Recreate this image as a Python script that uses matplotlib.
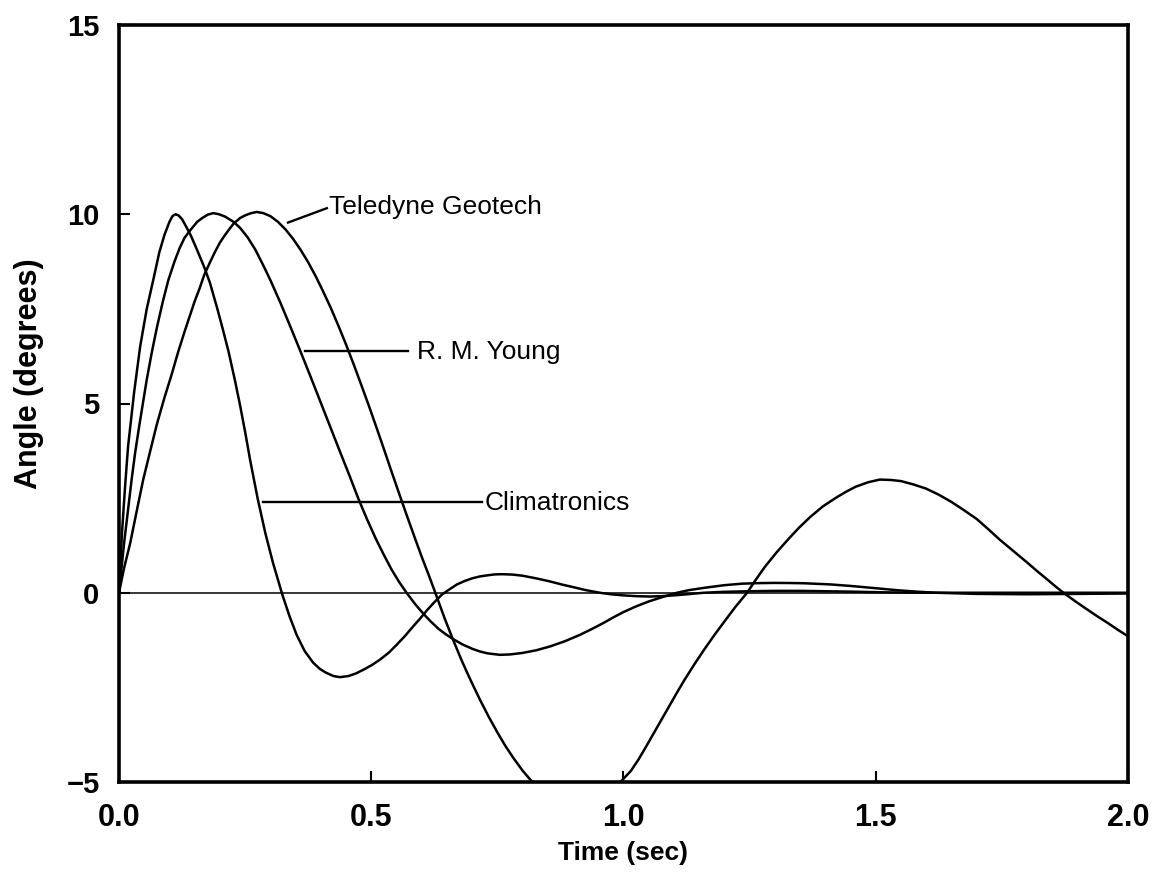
import matplotlib
matplotlib.use("Agg")
import matplotlib.pyplot as plt

# ---- data ----
clim_t = [0, 0.006, 0.012, 0.018, 0.03, 0.042, 0.055, 0.068, 0.08, 0.09, 0.1, 0.106,
          0.112, 0.118, 0.125, 0.132, 0.142, 0.155, 0.169, 0.18, 0.195, 0.205, 0.217,
          0.23, 0.24, 0.25, 0.26, 0.275, 0.29, 0.305, 0.324, 0.338, 0.352, 0.368,
          0.385, 0.398, 0.41, 0.425, 0.438, 0.455, 0.47, 0.485, 0.5, 0.517, 0.535,
          0.55, 0.567, 0.583, 0.597, 0.61, 0.625, 0.64, 0.655, 0.67, 0.685, 0.7,
          0.715, 0.73, 0.745, 0.76, 0.78, 0.8, 0.827, 0.854, 0.88, 0.9, 0.925, 0.953,
          0.975, 1.0, 1.025, 1.052, 1.075, 1.1, 1.13, 1.159, 1.2, 1.25, 1.3, 1.35,
          1.4, 1.45, 1.52, 1.6, 1.8, 2.0]
clim_v = [0, 1.6, 2.8, 3.87, 5.3, 6.51, 7.5, 8.27, 9.0, 9.45, 9.8, 9.95,
          10.0, 9.97, 9.87, 9.7, 9.45, 9.05, 8.6, 8.2, 7.5, 7.0, 6.38,
          5.6, 4.95, 4.25, 3.5, 2.48, 1.58, 0.8, -0.06, -0.62, -1.11, -1.54,
          -1.85, -2.01, -2.11, -2.2, -2.23, -2.2, -2.13, -2.03, -1.92, -1.77, -1.58,
          -1.38, -1.14, -0.89, -0.68, -0.47, -0.25, -0.05, 0.09, 0.22, 0.31, 0.38,
          0.43, 0.46, 0.485, 0.49, 0.48, 0.45, 0.38, 0.30, 0.21, 0.15, 0.07, 0.0,
          -0.04, -0.07, -0.09, -0.1, -0.09, -0.07, -0.035, 0.0, 0.025, 0.04, 0.05, 0.05,
          0.04, 0.03, 0.01, 0.0, 0.0, 0.0]

rmy_t = [0, 0.01, 0.018, 0.025, 0.032, 0.04, 0.055, 0.065, 0.075, 0.087, 0.098, 0.11,
         0.12, 0.13, 0.142, 0.155, 0.165, 0.176, 0.187, 0.198, 0.21, 0.227, 0.24,
         0.255, 0.27, 0.286, 0.3, 0.32, 0.34, 0.359, 0.38, 0.4, 0.42, 0.44, 0.457,
         0.474, 0.492, 0.51, 0.525, 0.54, 0.555, 0.57, 0.587, 0.603, 0.618, 0.633,
         0.648, 0.663, 0.68, 0.7, 0.715, 0.73, 0.755, 0.775, 0.8, 0.827, 0.854, 0.884,
         0.914, 0.94, 0.96, 0.98, 1.0, 1.025, 1.05, 1.078, 1.106, 1.13, 1.16, 1.2,
         1.235, 1.27, 1.3, 1.33, 1.36, 1.41, 1.45, 1.5, 1.54, 1.58, 1.62, 1.7, 1.8,
         1.9, 2.0]
rmy_v = [0, 1.3, 2.2, 2.99, 3.7, 4.4, 5.63, 6.35, 7.0, 7.7, 8.27, 8.75,
         9.1, 9.38, 9.59, 9.8, 9.9, 9.99, 10.03, 10.0, 9.94, 9.8, 9.64,
         9.39, 9.07, 8.65, 8.26, 7.66, 7.02, 6.4, 5.7, 5.02, 4.34, 3.66, 3.09,
         2.5, 1.93, 1.4, 1.0, 0.62, 0.29, 0.0, -0.3, -0.55, -0.76, -0.95,
         -1.1, -1.23, -1.36, -1.48, -1.55, -1.6, -1.64, -1.63, -1.59, -1.52, -1.42, -1.28,
         -1.11, -0.94, -0.8, -0.65, -0.51, -0.36, -0.23, -0.11, 0.0, 0.07, 0.13, 0.2,
         0.24, 0.255, 0.26, 0.257, 0.25, 0.22, 0.18, 0.12, 0.07, 0.03, 0.0, -0.03, -0.04,
         -0.03, -0.02]

tel_t = [0, 0.01, 0.022, 0.035, 0.048, 0.062, 0.075, 0.09, 0.104, 0.117, 0.13, 0.14,
         0.15, 0.16, 0.169, 0.18, 0.19, 0.2, 0.21, 0.22, 0.227, 0.24, 0.25, 0.262,
         0.273, 0.286, 0.3, 0.315, 0.33, 0.345, 0.36, 0.375, 0.39, 0.405, 0.42,
         0.435, 0.45, 0.465, 0.48, 0.495, 0.51, 0.525, 0.54, 0.555, 0.57, 0.585,
         0.6, 0.615, 0.627, 0.645, 0.663, 0.678, 0.69, 0.703, 0.716, 0.733, 0.75,
         0.766, 0.782, 0.8, 0.82, 0.84, 0.86, 0.88, 0.9, 0.925, 0.95, 0.975, 0.996,
         1.015, 1.03, 1.045, 1.06, 1.075, 1.09, 1.105, 1.121, 1.14, 1.16, 1.18, 1.2,
         1.222, 1.245, 1.262, 1.28, 1.303, 1.327, 1.348, 1.37, 1.395, 1.42, 1.44,
         1.46, 1.485, 1.508, 1.53, 1.55, 1.575, 1.6, 1.625, 1.65, 1.675, 1.7, 1.723,
         1.746, 1.773, 1.8, 1.82, 1.84, 1.856, 1.872, 1.896, 1.92, 1.94, 1.96, 1.98, 2.0]
tel_v = [0, 0.65, 1.3, 2.15, 2.99, 3.75, 4.45, 5.15, 5.75, 6.35, 6.9, 7.3,
         7.7, 8.05, 8.4, 8.72, 9.0, 9.25, 9.45, 9.63, 9.75, 9.9, 9.97, 10.03,
         10.06, 10.03, 9.95, 9.8, 9.6, 9.35, 9.06, 8.73, 8.36, 7.95, 7.52,
         7.05, 6.56, 6.04, 5.5, 4.95, 4.38, 3.8, 3.21, 2.63, 2.06, 1.5,
         0.95, 0.43, 0.0, -0.66, -1.27, -1.75, -2.11, -2.48, -2.84, -3.28, -3.69,
         -4.05, -4.37, -4.7, -5.01, -5.26, -5.43, -5.52, -5.55, -5.5, -5.36, -5.17, -4.97,
         -4.7, -4.4, -4.06, -3.71, -3.36, -3.01, -2.66, -2.3, -1.9, -1.5, -1.12, -0.76,
         -0.37, 0.0, 0.34, 0.68, 1.06, 1.42, 1.72, 2.0, 2.28, 2.5, 2.66,
         2.8, 2.92, 2.99, 2.98, 2.95, 2.86, 2.75, 2.59, 2.4, 2.18, 1.95, 1.68,
         1.4, 1.1, 0.8, 0.57, 0.35, 0.17, 0.0, -0.23, -0.45, -0.63, -0.8, -0.98, -1.15]

x_ticks = [0.0, 0.5, 1.0, 1.5, 2.0]
x_labels = ["0.0", "0.5", "1.0", "1.5", "2.0"]
y_ticks = [-5, 0, 5, 10, 15]
y_labels = ["\u22125", "0", "5", "10", "15"]

# ---- figure ----
plt.rcParams['font.family'] = ['Liberation Sans', 'DejaVu Sans']
fig = plt.figure(figsize=(11.62, 8.75), dpi=100)
ax = fig.add_axes([119/1162, 1 - 782/875, 1009/1162, 757/875])

lw = 1.8
ax.axhline(0, color='black', lw=1.1, zorder=1)
for t, v in [(clim_t, clim_v), (rmy_t, rmy_v), (tel_t, tel_v)]:
    ax.plot(t, v, color='black', lw=lw, solid_joinstyle='round', solid_capstyle='round')

# leader lines + labels
ax.plot([0.335, 0.412], [9.78, 10.16], color='black', lw=1.7)
ax.text(0.416, 10.2, "Teledyne Geotech", fontsize=19, va='center', ha='left')
ax.plot([0.369, 0.573], [6.38, 6.38], color='black', lw=1.7)
ax.text(0.591, 6.35, "R. M. Young", fontsize=19, va='center', ha='left')
ax.plot([0.285, 0.719], [2.41, 2.41], color='black', lw=1.7)
ax.text(0.725, 2.38, "Climatronics", fontsize=19, va='center', ha='left')

ax.set_xlim(0, 2)
ax.set_ylim(-5, 15)
ax.set_xticks(x_ticks)
ax.set_xticklabels(x_labels, fontsize=22, fontweight='bold')
ax.set_yticks(y_ticks)
ax.set_yticklabels(y_labels, fontsize=21, fontweight='bold')
ax.tick_params(direction='in', length=8, width=1.5, top=False, right=False)
ax.tick_params(axis='y', pad=14)
ax.tick_params(axis='x', pad=15)

for s in ax.spines.values():
    s.set_linewidth(2.6)

ax.set_xlabel("Time (sec)", fontsize=19, fontweight='bold')
ax.set_ylabel("Angle (degrees)", fontsize=22, fontweight='bold')
ax.xaxis.set_label_coords(0.5, -0.078)
ax.yaxis.set_label_coords(-0.074, 0.539)

fig.savefig("out.png", dpi=100)
